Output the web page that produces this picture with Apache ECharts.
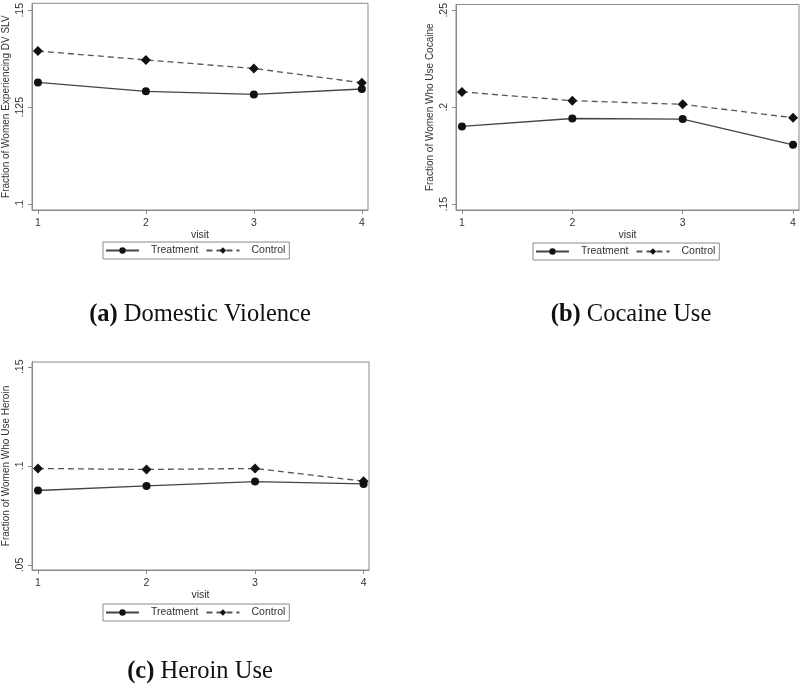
<!DOCTYPE html>
<html>
<head>
<meta charset="utf-8">
<script src="https://cdn.jsdelivr.net/npm/echarts@6/dist/echarts.min.js"></script>
<style>
  html, body { margin: 0; padding: 0; background: #fff; }
  #chart { width: 800px; height: 685px; }
</style>
</head>
<body>
<div id="chart"></div>
<script>
// visits on the x axis
var visits = [1, 2, 3, 4];

// (a) domestic violence
var dvTreatment = [0.1314, 0.1291, 0.1283, 0.1297];
var dvControl = [0.1395, 0.1372, 0.1350, 0.1313];
var dvTicks = [0.1, 0.125, 0.15];

// (b) cocaine
var cocTreatment = [0.1901, 0.1942, 0.1939, 0.1806];
var cocControl = [0.2079, 0.2034, 0.2015, 0.1946];
var cocTicks = [0.15, 0.2, 0.25];

// (c) heroin
var herTreatment = [0.0876, 0.0899, 0.0921, 0.0909];
var herControl = [0.0987, 0.0982, 0.0987, 0.0923];
var herTicks = [0.05, 0.1, 0.15];

var captions = [
  { tag: '(a)', text: 'Domestic Violence' },
  { tag: '(b)', text: 'Cocaine Use' },
  { tag: '(c)', text: 'Heroin Use' }
];
var yNames = [
  'Fraction of Women Experiencing DV SLV',
  'Fraction of Women Who Use Cocaine',
  'Fraction of Women Who Use Heroin'
];

var font = 'Liberation Sans';
var axisGray = '#8a8a8a';

var stata = v => String(v).replace(/^0/, '');
var pairs = arr => arr.map((v, i) => [visits[i], v]);

var myChart = echarts.init(document.getElementById('chart'));

var grids = [
  { left: 27, top: 0, width: 341, height: 210 },
  { left: 456, top: 1, width: 343, height: 209 },
  { left: 27, top: 362, width: 342, height: 208 }
];
var yRanges = [[0.0985, 0.1518], [0.147, 0.253], [0.0475, 0.1524]];
var xRanges = [[0.945, 4.057], [0.946, 4.054], [0.945, 4.05]];
var yTicks = [dvTicks, cocTicks, herTicks];
var seriesData = [
  [dvTreatment, dvControl],
  [cocTreatment, cocControl],
  [herTreatment, herControl]
];

var option = {
  animation: false,
  backgroundColor: '#fff',
  grid: grids.map(g => Object.assign({
    show: true, borderColor: axisGray, borderWidth: 1, backgroundColor: '#fff'
  }, g)),
  xAxis: grids.map((g, i) => ({
    type: 'value',
    gridIndex: i,
    min: xRanges[i][0],
    max: xRanges[i][1],
    name: 'visit',
    nameLocation: 'middle',
    nameGap: 16,
    nameTextStyle: { fontFamily: font, fontSize: 10.5, color: '#333' },
    splitLine: { show: false },
    axisLine: { lineStyle: { color: axisGray } },
    axisTick: { length: 4, customValues: visits, lineStyle: { color: axisGray } },
    axisLabel: { customValues: visits, fontFamily: font, fontSize: 10.5, color: '#333', margin: 8 }
  })),
  yAxis: grids.map((g, i) => ({
    type: 'value',
    gridIndex: i,
    min: yRanges[i][0],
    max: yRanges[i][1],
    name: yNames[i],
    nameLocation: 'middle',
    nameRotate: 90,
    nameGap: 21,
    nameTextStyle: { fontFamily: font, fontSize: 10, color: '#333' },
    splitLine: { show: false },
    axisLine: { show: true, lineStyle: { color: axisGray } },
    axisTick: { show: true, length: 4, customValues: yTicks[i], lineStyle: { color: axisGray } },
    axisLabel: {
      customValues: yTicks[i], rotate: 90, margin: 6,
      fontFamily: font, fontSize: 10.5, color: '#333',
      formatter: stata
    }
  })),
  legend: [
    { left: 103, top: 242 },
    { left: 533, top: 243 },
    { left: 103, top: 604 }
  ].map(p => Object.assign({
    data: ['Treatment', 'Control'],
    orient: 'horizontal',
    borderColor: axisGray,
    borderWidth: 1,
    borderRadius: 0,
    padding: [3, 4, 3, 2],
    itemWidth: 33,
    itemHeight: 8,
    itemGap: 7,
    selectedMode: false,
    textStyle: { fontFamily: font, fontSize: 10.5, color: '#333', padding: [0, 0, 0, 7] }
  }, p)),
  title: captions.map((c, i) => ({
    text: '{b|' + c.tag + '} ' + c.text,
    left: [195, 626, 195][i],
    top: [297, 297, 654][i],
    textAlign: 'center',
    textStyle: {
      fontFamily: 'Liberation Serif', fontSize: 24.5, fontWeight: 'normal', color: '#111',
      rich: { b: { fontFamily: 'Liberation Serif', fontSize: 24.5, fontWeight: 'bold', color: '#111' } }
    }
  })),
  series: []
};

seriesData.forEach((pair, i) => {
  option.series.push({
    name: 'Treatment',
    type: 'line',
    xAxisIndex: i,
    yAxisIndex: i,
    data: pairs(pair[0]),
    symbol: 'circle',
    symbolSize: 8,
    itemStyle: { color: '#111' },
    lineStyle: { color: '#444', width: 1.3, type: 'solid' }
  });
  option.series.push({
    name: 'Control',
    type: 'line',
    xAxisIndex: i,
    yAxisIndex: i,
    data: pairs(pair[1]),
    symbol: 'diamond',
    symbolSize: 10,
    itemStyle: { color: '#111' },
    lineStyle: { color: '#555', width: 1.3, type: [6, 4] }
  });
});

myChart.setOption(option);
window.addEventListener('resize', function () {
  myChart.resize();
});
</script>
</body>
</html>
